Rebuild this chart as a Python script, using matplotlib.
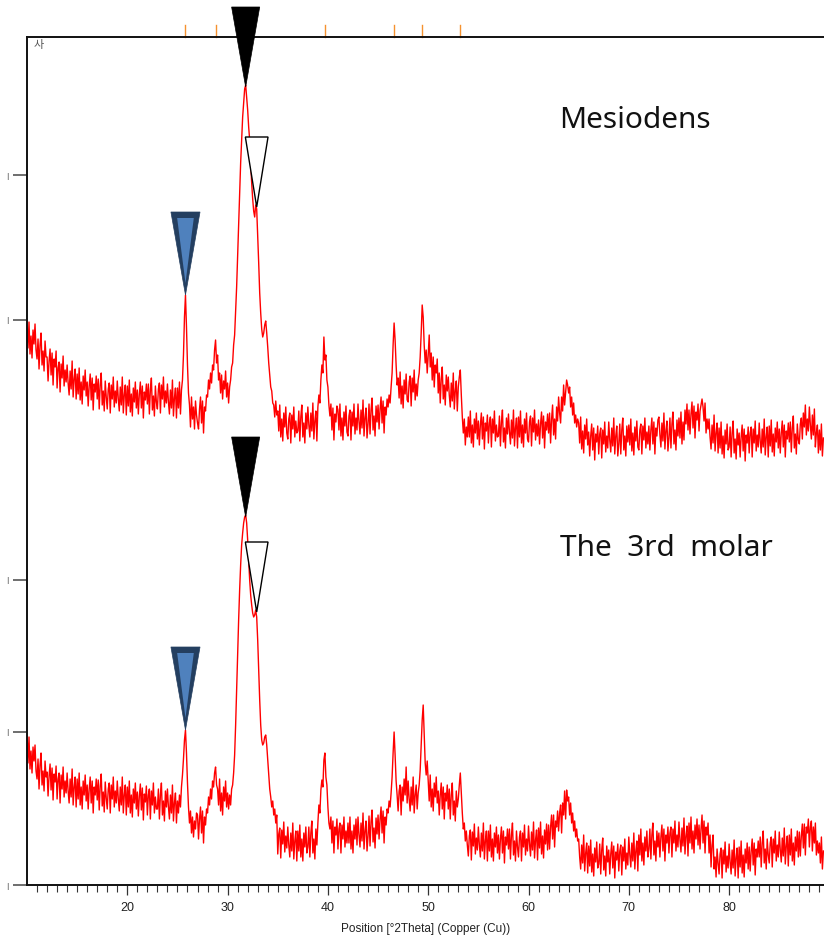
import numpy as np
import matplotlib
matplotlib.use("Agg")
import matplotlib.pyplot as plt
from matplotlib.patches import Polygon

# ---------------- data ----------------
# 2theta grid, 0.1 deg step from 10.0 to 89.4
two_theta = np.round(10 + 0.1 * np.arange(795), 1)

# Mesiodens pattern (intensity, arbitrary units, stacked above the 3rd molar)
mesiodens = [
    557, 537, 563, 531, 549, 527, 555, 541, 561, 535,   # 10
    526, 546, 516, 540, 552, 520, 534, 514, 544, 528,   # 11
    528, 504, 524, 536, 510, 532, 500, 526, 518, 534,   # 12
    497, 517, 523, 493, 521, 507, 529, 499, 515, 503,   # 13
    520, 502, 490, 514, 496, 524, 488, 506, 516, 486,   # 14
    511, 491, 517, 485, 503, 481, 509, 495, 515, 489,   # 15
    503, 479, 499, 511, 485, 507, 475, 501, 493, 509,   # 16
    486, 506, 476, 500, 512, 480, 494, 474, 504, 488,   # 17
    476, 496, 502, 472, 500, 486, 508, 478, 494, 482,   # 18
    504, 486, 474, 498, 480, 508, 472, 490, 500, 470,   # 19
    499, 479, 505, 473, 491, 469, 497, 483, 503, 477,   # 20
    495, 471, 491, 503, 477, 499, 467, 493, 485, 501,   # 21
    481, 501, 471, 495, 507, 475, 489, 469, 499, 483,   # 22
    476, 496, 502, 472, 500, 486, 508, 478, 494, 482,   # 23
    501, 483, 471, 495, 477, 505, 469, 487, 497, 467,   # 24
    497, 477, 503, 471, 495, 505, 530, 568, 590, 558,   # 25
    520, 492, 480, 458, 488, 466, 478, 456, 484, 470,   # 26
    462, 456, 476, 488, 462, 484, 452, 478, 474, 490,   # 27
    488, 505, 496, 512, 502, 520, 515, 535, 545, 522,   # 28
    530, 505, 512, 492, 510, 486, 504, 496, 514, 488,   # 29
    502, 482, 498, 505, 518, 522, 540, 550, 575, 598,   # 30
    630, 660, 690, 722, 745, 768, 782, 796, 800, 788,   # 31
    775, 758, 745, 722, 702, 686, 674, 668, 680, 676,   # 32
    650, 622, 592, 572, 556, 548, 552, 560, 564, 552,   # 33
    538, 522, 510, 498, 494, 482, 480, 468, 484, 470,   # 34
    474, 454, 480, 448, 466, 444, 472, 458, 478, 452,   # 35
    446, 466, 472, 442, 470, 456, 478, 448, 464, 452,   # 36
    454, 474, 444, 468, 480, 448, 462, 442, 472, 456,   # 37
    478, 460, 448, 472, 454, 482, 446, 464, 474, 444,   # 38
    478, 490, 482, 505, 520, 512, 548, 525, 530, 505,   # 39
    498, 480, 469, 481, 455, 477, 445, 471, 463, 479,   # 40
    475, 455, 481, 449, 467, 445, 473, 459, 479, 453,   # 41
    449, 469, 475, 445, 473, 459, 481, 451, 467, 455,   # 42
    481, 463, 451, 475, 457, 485, 449, 467, 477, 447,   # 43
    461, 481, 451, 475, 487, 455, 469, 449, 479, 463,   # 44
    480, 456, 476, 488, 462, 484, 452, 478, 470, 486,   # 45
    478, 490, 482, 498, 512, 540, 562, 545, 520, 500,   # 46
    507, 487, 513, 481, 499, 477, 505, 491, 511, 485,   # 47
    483, 503, 509, 479, 507, 493, 515, 485, 501, 489,   # 48
    505, 512, 528, 552, 580, 568, 540, 522, 535, 512,   # 49
    530, 550, 518, 532, 505, 528, 498, 520, 512, 526,   # 50
    492, 512, 482, 506, 518, 486, 500, 480, 510, 494,   # 51
    508, 490, 478, 502, 484, 512, 476, 494, 504, 474,   # 52
    498, 508, 515, 490, 468, 452, 466, 440, 458, 448,   # 53
    468, 448, 474, 442, 460, 438, 466, 452, 472, 446,   # 54
    464, 440, 460, 472, 446, 468, 436, 462, 454, 470,   # 55
    442, 462, 468, 438, 466, 452, 474, 444, 460, 448,   # 56
    449, 469, 439, 463, 475, 443, 457, 437, 467, 451,   # 57
    471, 453, 441, 465, 447, 475, 439, 457, 467, 437,   # 58
    468, 448, 474, 442, 460, 438, 466, 452, 472, 446,   # 59
    443, 463, 469, 439, 467, 453, 475, 445, 461, 449,   # 60
    465, 441, 461, 473, 447, 469, 437, 463, 455, 471,   # 61
    452, 472, 442, 466, 480, 450, 466, 446, 478, 464,   # 62
    488, 472, 462, 488, 474, 500, 480, 492, 505, 500,   # 63
    492, 498, 478, 488, 470, 482, 462, 470, 458, 466,   # 64
    462, 442, 468, 436, 454, 432, 460, 446, 466, 440,   # 65
    453, 429, 449, 461, 435, 457, 425, 451, 443, 459,   # 66
    431, 451, 457, 427, 455, 441, 463, 433, 449, 437,   # 67
    463, 445, 433, 457, 439, 467, 431, 449, 459, 429,   # 68
    441, 461, 431, 455, 467, 435, 449, 429, 459, 443,   # 69
    460, 440, 466, 434, 452, 430, 458, 444, 464, 438,   # 70
    435, 455, 461, 431, 459, 445, 467, 437, 453, 441,   # 71
    459, 435, 455, 467, 441, 463, 431, 457, 449, 465,   # 72
    468, 450, 438, 462, 444, 472, 436, 454, 464, 434,   # 73
    447, 467, 437, 461, 473, 441, 455, 435, 465, 449,   # 74
    467, 447, 473, 441, 463, 445, 475, 461, 481, 455,   # 75
    475, 451, 471, 483, 457, 479, 447, 473, 465, 481,   # 76
    454, 474, 480, 486, 478, 464, 482, 452, 466, 456,   # 77
    466, 448, 436, 460, 442, 470, 434, 452, 462, 432,   # 78
    457, 437, 463, 431, 449, 427, 455, 441, 461, 435,   # 79
    438, 458, 428, 452, 464, 432, 446, 426, 456, 440,   # 80
    452, 428, 448, 460, 434, 456, 424, 450, 442, 458,   # 81
    432, 452, 458, 428, 456, 442, 464, 434, 450, 438,   # 82
    462, 444, 432, 456, 438, 466, 430, 448, 458, 428,   # 83
    459, 439, 465, 433, 451, 429, 457, 443, 463, 437,   # 84
    456, 432, 452, 464, 438, 460, 428, 454, 446, 462,   # 85
    443, 463, 433, 457, 469, 437, 451, 431, 461, 445,   # 86
    441, 461, 467, 446, 472, 458, 480, 450, 466, 454,   # 87
    478, 460, 446, 470, 450, 476, 438, 452, 460, 432,   # 88
    455, 435, 461, 429, 447,                            # 89.0-89.4
]

# The 3rd molar pattern (intensity, arbitrary units)
third_molar = [
    152, 122, 148, 116, 134, 112, 138, 124, 140, 114,   # 10
    106, 126, 96, 120, 132, 100, 114, 94, 124, 108,     # 11
    113, 89, 109, 121, 95, 117, 85, 111, 103, 119,      # 12
    86, 106, 112, 82, 110, 96, 118, 88, 104, 92,        # 13
    112, 94, 82, 106, 88, 116, 80, 98, 108, 78,         # 14
    106, 86, 112, 80, 98, 76, 104, 90, 110, 84,         # 15
    100, 76, 96, 108, 82, 104, 72, 98, 90, 106,         # 16
    85, 105, 75, 99, 111, 79, 93, 73, 103, 87,          # 17
    76, 96, 102, 72, 100, 86, 108, 78, 94, 82,          # 18
    104, 86, 74, 98, 80, 108, 72, 90, 100, 70,          # 19
    98, 78, 104, 72, 90, 68, 96, 82, 102, 76,           # 20
    93, 69, 89, 101, 75, 97, 65, 91, 83, 99,            # 21
    70, 90, 96, 66, 94, 80, 102, 72, 88, 76,            # 22
    76, 96, 66, 90, 102, 70, 84, 64, 94, 78,            # 23
    96, 78, 66, 90, 72, 100, 64, 82, 92, 62,            # 24
    84, 72, 90, 78, 98, 110, 126, 145, 155, 132,        # 25
    102, 78, 62, 74, 52, 68, 48, 64, 56, 72,            # 26
    70, 46, 66, 78, 52, 74, 42, 68, 60, 76,             # 27
    72, 88, 80, 96, 86, 104, 98, 112, 118, 100,         # 28
    96, 80, 106, 74, 92, 70, 98, 84, 104, 78,           # 29
    92, 76, 90, 80, 96, 100, 112, 130, 160, 195,        # 30
    230, 265, 295, 320, 340, 352, 362, 368, 370, 362,   # 31
    345, 325, 305, 290, 280, 272, 268, 270, 275, 268,   # 32
    245, 215, 185, 160, 145, 140, 142, 148, 150, 140,   # 33
    125, 110, 96, 88, 78, 84, 70, 76, 62, 70,           # 34
    31, 51, 57, 27, 55, 41, 63, 33, 49, 37,             # 35
    58, 40, 28, 52, 34, 62, 26, 44, 54, 24,             # 36
    54, 34, 60, 28, 46, 24, 52, 38, 58, 32,             # 37
    38, 58, 28, 52, 64, 32, 46, 26, 56, 40,             # 38
    62, 80, 72, 95, 105, 98, 125, 132, 108, 100,        # 39
    78, 62, 56, 68, 42, 64, 32, 58, 50, 66,             # 40
    36, 56, 62, 32, 60, 46, 68, 38, 54, 42,             # 41
    62, 42, 68, 36, 54, 32, 60, 46, 66, 40,             # 42
    68, 50, 38, 62, 44, 72, 36, 54, 64, 34,             # 43
    49, 69, 39, 63, 75, 43, 57, 37, 67, 51,             # 44
    70, 46, 66, 78, 52, 74, 42, 68, 60, 76,             # 45
    72, 84, 78, 92, 108, 132, 153, 130, 104, 90,        # 46
    74, 94, 100, 70, 98, 84, 106, 90, 118, 82,          # 47
    104, 86, 74, 98, 80, 108, 72, 90, 100, 76,          # 48
    92, 100, 115, 140, 165, 180, 150, 122, 110, 124,    # 49
    104, 84, 110, 78, 96, 74, 102, 88, 108, 82,         # 50
    94, 70, 90, 102, 76, 98, 66, 92, 84, 100,           # 51
    76, 96, 66, 90, 102, 70, 84, 64, 94, 78,            # 52
    86, 100, 112, 92, 72, 56, 62, 44, 54, 40,           # 53
    29, 49, 55, 25, 53, 39, 61, 31, 47, 35,             # 54
    58, 40, 28, 52, 34, 62, 26, 44, 54, 24,             # 55
    54, 34, 60, 28, 46, 24, 52, 38, 58, 32,             # 56
    50, 26, 46, 58, 32, 54, 22, 48, 40, 56,             # 57
    36, 56, 26, 50, 62, 30, 44, 24, 54, 38,             # 58
    28, 48, 54, 24, 52, 38, 60, 30, 46, 34,             # 59
    59, 41, 29, 53, 35, 63, 27, 45, 55, 25,             # 60
    57, 37, 63, 31, 49, 27, 55, 41, 61, 35,             # 61
    60, 36, 58, 70, 46, 70, 38, 64, 58, 74,             # 62
    54, 72, 80, 52, 82, 70, 94, 66, 95, 84,             # 63
    88, 70, 82, 62, 72, 54, 64, 48, 56, 44,             # 64
    46, 28, 16, 40, 22, 50, 14, 32, 42, 12,             # 65
    39, 19, 45, 13, 31, 9, 37, 23, 43, 17,              # 66
    21, 41, 11, 35, 47, 15, 29, 9, 39, 23,              # 67
    35, 11, 31, 43, 17, 39, 7, 33, 25, 41,              # 68
    14, 34, 40, 10, 38, 24, 46, 16, 32, 20,             # 69
    48, 30, 18, 42, 24, 52, 16, 34, 44, 14,             # 70
    50, 30, 56, 24, 42, 20, 48, 34, 54, 28,             # 71
    36, 56, 26, 50, 62, 30, 44, 24, 54, 38,             # 72
    52, 28, 48, 60, 34, 56, 24, 50, 42, 58,             # 73
    32, 52, 58, 28, 56, 42, 64, 34, 50, 38,             # 74
    63, 45, 33, 57, 39, 67, 31, 49, 59, 29,             # 75
    62, 42, 68, 36, 54, 32, 60, 46, 66, 40,             # 76
    60, 36, 56, 70, 42, 64, 32, 58, 50, 62,             # 77
    32, 50, 18, 40, 50, 16, 28, 8, 36, 22,              # 78
    11, 31, 37, 7, 35, 21, 43, 13, 29, 17,              # 79
    41, 23, 11, 35, 17, 45, 9, 27, 37, 7,               # 80
    38, 18, 44, 12, 30, 8, 36, 22, 42, 16,              # 81
    38, 14, 34, 46, 20, 42, 10, 36, 28, 44,             # 82
    28, 48, 18, 42, 54, 22, 36, 16, 46, 30,             # 83
    22, 42, 48, 18, 46, 32, 54, 24, 40, 28,             # 84
    53, 35, 23, 47, 29, 57, 21, 39, 49, 19,             # 85
    50, 30, 56, 24, 42, 20, 48, 34, 54, 28,             # 86
    53, 29, 49, 61, 37, 61, 30, 58, 52, 66,             # 87
    38, 58, 64, 34, 58, 42, 62, 30, 44, 32,             # 88
    42, 22, 48, 16, 34,                                 # 89.0-89.4
]

sample_labels = ["Mesiodens", "The  3rd  molar"]
hap_reference_peaks = [25.8, 28.8, 39.7, 46.6, 49.4, 53.2]   # orange reference sticks
marker_peaks = {"black": 31.8, "white": 32.8, "blue": 25.8}
x_ticks = [20, 30, 40, 50, 60, 70, 80]
y_ticks = [0, 153, 305, 565, 710]

# ---------------- figure ----------------
W, H = 824, 935
fig = plt.figure(figsize=(W / 100, H / 100), dpi=100)
ax = fig.add_axes([27 / W, 50 / H, 1 - 27 / W, 848 / H])

ax.plot(two_theta, mesiodens, color="#ff0000", lw=1.0, zorder=2)
ax.plot(two_theta, third_molar, color="#ff0000", lw=1.0, zorder=2)

ax.set_xlim(10, 89.46)
ax.set_ylim(0, 848)

# spines
ax.spines["right"].set_visible(False)
for s in ("top", "left", "bottom"):
    ax.spines[s].set_linewidth(1.4)
    ax.spines[s].set_color("#111111")

# x ticks
ax.set_xticks(x_ticks)
ax.set_xticks(np.arange(11, 90, 1), minor=True)
ax.tick_params(axis="x", which="major", length=7, width=0.9, color="#333333",
               labelsize=9, pad=5, direction="out")
ax.tick_params(axis="x", which="minor", length=5, width=0.8, color="#333333",
               direction="out")
for lab in ax.get_xticklabels():
    lab.set_fontfamily("Liberation Sans")
    lab.set_color("#222222")
ax.set_xlabel("Position [°2Theta] (Copper (Cu))", fontsize=8.5,
              family="Liberation Sans", color="#222222", labelpad=6.5)

# y ticks
ax.set_yticks(y_ticks)
ax.set_yticklabels(["|"] * len(y_ticks))
ax.tick_params(axis="y", length=10, width=1.2, color="#555555", labelsize=5,
               pad=3, labelcolor="#333333")

# orange reference sticks above top spine
for p in hap_reference_peaks:
    ax.plot([p, p], [1.0, 1.0 + 12 / 848], color="#f5922f", lw=1.0,
            transform=ax.get_xaxis_transform(), clip_on=False, zorder=1)

ax.text(10.7, 1 - 8 / 848, "사", transform=ax.get_xaxis_transform(),
        fontsize=8, color="#555555", family=["Noto Sans CJK KR", "DejaVu Sans"],
        ha="left", va="center")


def value_at(series, tt):
    return series[int(round((tt - 10) / 0.1))]


def tri(ax, tip_x, tip_y, half_w, height, **kw):
    p = Polygon([[tip_x - half_w, tip_y + height], [tip_x + half_w, tip_y + height],
                 [tip_x, tip_y]], closed=True, clip_on=False, **kw)
    ax.add_patch(p)


for series in (mesiodens, third_molar):
    bx = marker_peaks["black"]
    tri(ax, bx, value_at(series, bx) - 2, 1.4, 80, facecolor="black",
        edgecolor="black", lw=0.5, zorder=5)
    wx = marker_peaks["white"]
    tri(ax, wx + 0.1, value_at(series, wx) - 2, 1.13, 70, facecolor="white",
        edgecolor="black", lw=1.0, zorder=5)
    ux = marker_peaks["blue"]
    uy = value_at(series, ux)
    tri(ax, ux, uy, 1.45, 83, facecolor="#243f60", edgecolor="#243f60",
        lw=0.5, zorder=5)
    p = Polygon([[ux - 0.83, uy + 77], [ux + 0.83, uy + 77], [ux, uy + 12]],
                closed=True, clip_on=False, facecolor="#4f81bd", edgecolor="none",
                zorder=6)
    ax.add_patch(p)

ax.text(63.1, 765, sample_labels[0], fontsize=21.5, family="Noto Sans",
        color="#111111", ha="left", va="center")
ax.text(63.1, 337, sample_labels[1], fontsize=21.5, family="Noto Sans",
        color="#111111", ha="left", va="center")

fig.savefig("out.png", dpi=100)
